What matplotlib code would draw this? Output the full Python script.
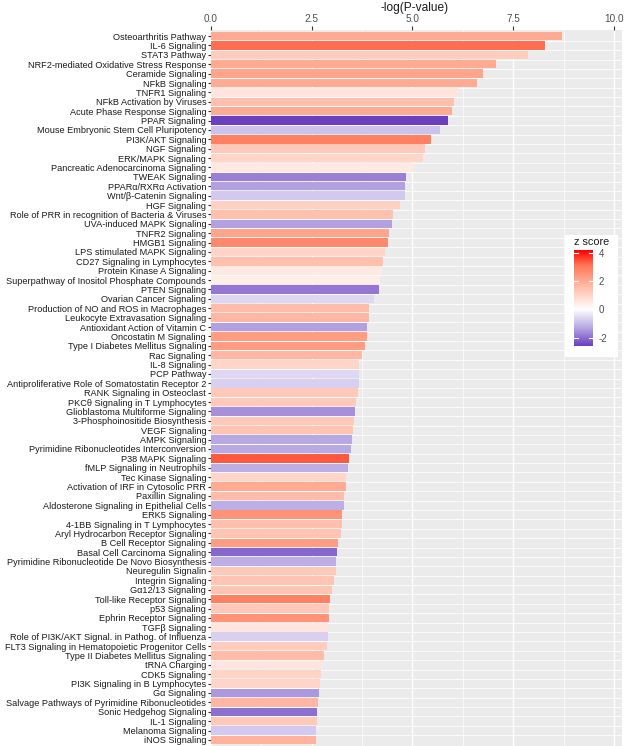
import numpy as np
import matplotlib
matplotlib.use('Agg')
import matplotlib.pyplot as plt
from matplotlib.colors import LinearSegmentedColormap, TwoSlopeNorm
from matplotlib.patches import Rectangle

pathways = [
    'Osteoarthritis Pathway', 'IL-6 Signaling', 'STAT3 Pathway',
    'NRF2-mediated Oxidative Stress Response', 'Ceramide Signaling', 'NFkB Signaling',
    'TNFR1 Signaling', 'NFkB Activation by Viruses', 'Acute Phase Response Signaling',
    'PPAR Signaling', 'Mouse Embryonic Stem Cell Pluripotency', 'PI3K/AKT Signaling',
    'NGF Signaling', 'ERK/MAPK Signaling', 'Pancreatic Adenocarcinoma Signaling',
    'TWEAK Signaling', 'PPARα/RXRα Activation', 'Wnt/β-Catenin Signaling',
    'HGF Signaling', 'Role of PRR in recognition of Bacteria & Viruses',
    'UVA-induced MAPK Signaling', 'TNFR2 Signaling', 'HMGB1 Signaling',
    'LPS stimulated MAPK Signaling', 'CD27 Signaling in Lymphocytes',
    'Protein Kinase A Signaling', 'Superpathway of Inositol Phosphate Compounds',
    'PTEN Signaling', 'Ovarian Cancer Signaling', 'Production of NO and ROS in Macrophages',
    'Leukocyte Extravasation Signaling', 'Antioxidant Action of Vitamin C',
    'Oncostatin M Signaling', 'Type I Diabetes Mellitus Signaling', 'Rac Signaling',
    'IL-8 Signaling', 'PCP Pathway', 'Antiproliferative Role of Somatostatin Receptor 2',
    'RANK Signaling in Osteoclast', 'PKCθ Signaling in T Lymphocytes',
    'Glioblastoma Multiforme Signaling', '3-Phosphoinositide Biosynthesis', 'VEGF Signaling',
    'AMPK Signaling', 'Pyrimidine Ribonucleotides Interconversion', 'P38 MAPK Signaling',
    'fMLP Signaling in Neutrophils', 'Tec Kinase Signaling',
    'Activation of IRF in Cytosolic PRR', 'Paxillin Signaling',
    'Aldosterone Signaling in Epithelial Cells', 'ERK5 Signaling',
    '4-1BB Signaling in T Lymphocytes', 'Aryl Hydrocarbon Receptor Signaling',
    'B Cell Receptor Signaling', 'Basal Cell Carcinoma Signaling',
    'Pyrimidine Ribonucleotide De Novo Biosynthesis', 'Neuregulin Signalin',
    'Integrin Signaling', 'Gα12/13 Signaling', 'Toll-like Receptor Signaling',
    'p53 Signaling', 'Ephrin Receptor Signaling', 'TGFβ Signaling',
    'Role of PI3K/AKT Signal. in Pathog. of Influenza',
    'FLT3 Signaling in Hematopoietic Progenitor Cells', 'Type II Diabetes Mellitus Signaling',
    'tRNA Charging', 'CDK5 Signaling', 'PI3K Signaling in B Lymphocytes',
    'Gα Signaling', 'Salvage Pathways of Pyrimidine Ribonucleotides',
    'Sonic Hedgehog Signaling', 'IL-1 Signaling', 'Melanoma Signaling', 'iNOS Signaling',
]

log_p = [
    8.72, 8.28, 7.87, 7.08, 6.74, 6.59, 6.14, 6.04, 5.99, 5.89,
    5.69, 5.45, 5.30, 5.25, 5.03, 4.83, 4.81, 4.81, 4.68, 4.52,
    4.50, 4.42, 4.40, 4.31, 4.26, 4.25, 4.19, 4.16, 4.04, 3.93,
    3.93, 3.88, 3.88, 3.83, 3.75, 3.68, 3.68, 3.67, 3.64, 3.60,
    3.57, 3.55, 3.52, 3.49, 3.47, 3.42, 3.39, 3.35, 3.34, 3.30,
    3.29, 3.26, 3.24, 3.22, 3.16, 3.13, 3.11, 3.11, 3.06, 3.01,
    2.96, 2.93, 2.92, 2.91, 2.90, 2.89, 2.81, 2.77, 2.74, 2.70,
    2.69, 2.66, 2.64, 2.62, 2.61, 2.60,
]

z_score = [
    2.0, 3.2, 1.2, 2.0, 2.1, 2.0, 0.6, 1.5, 2.0, -2.6,
    -0.9, 2.9, 1.3, 1.0, 0.5, -1.8, -1.4, -0.8, 1.1, 1.5,
    -1.4, 2.1, 2.7, 1.0, 1.5, 0.5, 0.4, -1.9, -0.6, 1.6,
    1.7, -1.4, 2.3, 2.3, 1.7, 1.0, -0.6, -0.7, 1.3, 1.3,
    -1.6, 1.3, 1.4, -1.3, -1.3, 3.4, -1.2, 1.0, 2.0, 1.6,
    -1.2, 2.5, 1.5, 1.4, 2.3, -2.1, -1.2, 1.3, 1.4, 1.4,
    2.9, 1.3, 2.5, 0.6, -0.7, 1.2, 1.6, 0.6, 1.0, 1.0,
    -1.5, 1.7, -2.0, 1.3, -0.8, 1.8,
]

x_ticks = [0, 2.5, 5, 7.5, 10]
x_tick_labels = ['0.0', '2.5', '5.0', '7.5', '10.0']
legend_ticks = [-2, 0, 2, 4]

plt.rcParams['font.family'] = ['Liberation Sans', 'DejaVu Sans']

W, H = 624, 746
fig = plt.figure(figsize=(W / 100, H / 100), dpi=100)

cmap = LinearSegmentedColormap.from_list('zs', [
    (0.0, '#6A3FC0'), (0.25, '#B8A8E3'), (0.5, '#FFFFFF'),
    (0.625, '#FFD3C5'), (0.75, '#FFA68D'), (0.875, '#FF7556'), (1.0, '#FF0000')])
norm = TwoSlopeNorm(vmin=-2.6, vcenter=0, vmax=4.2)

# main panel
ax = fig.add_axes([211 / W, 0, 411 / W, (H - 30) / H])
ax.set_facecolor('#EBEBEB')
y = np.arange(len(pathways))
ax.barh(y, log_p, height=0.9, color=cmap(norm(np.array(z_score))), zorder=2)
ax.set_xlim(0, 10.2)
ax.set_ylim(len(pathways) - 0.35, -0.65)

for v in [1.25, 3.75, 6.25, 8.75]:
    ax.axvline(v, color='white', lw=0.5, zorder=1)
for v in x_ticks:
    ax.axvline(v, color='white', lw=1.0, zorder=1)
for v in y[:-1]:
    ax.axhline(v + 0.5, color='white', lw=0.6, zorder=1)

for s in ax.spines.values():
    s.set_visible(False)

ax.xaxis.tick_top()
ax.set_xticks(x_ticks, x_tick_labels)
ax.tick_params(axis='x', length=3, color='#333333', labelcolor='#4D4D4D',
               labelsize=7.2, pad=1.5)
ax.set_yticks(y, pathways)
ax.tick_params(axis='y', length=2.5, color='#333333', labelcolor='#1A1A1A',
               labelsize=6.6, pad=1)

fig.text(415 / W, 1 - 8 / H, '-log(P-value)', ha='center', va='center',
         fontsize=8.6, color='#1A1A1A')

# legend
fig.patches.append(Rectangle((565 / W, 1 - 357 / H), 53 / W, 122 / H,
                             transform=fig.transFigure, facecolor='white',
                             edgecolor='none', zorder=3))
cax = fig.add_axes([574 / W, 1 - 346 / H, 19 / W, 96 / H], zorder=4)
vals = np.linspace(-2.6, 4.2, 300)
cax.imshow(vals[:, None], aspect='auto', cmap=cmap, norm=norm,
           extent=[0, 1, -2.6, 4.2], origin='lower')
cax.set_xlim(0, 1)
cax.set_ylim(-2.6, 4.2)
for v in legend_ticks:
    cax.plot([0, 0.2], [v, v], color='white', lw=0.8)
    cax.plot([0.8, 1], [v, v], color='white', lw=0.8)
cax.set_xticks([])
cax.yaxis.tick_right()
cax.set_yticks(legend_ticks, [str(t) for t in legend_ticks])
cax.tick_params(axis='y', length=0, labelsize=7, labelcolor='#4D4D4D', pad=4)
for s in cax.spines.values():
    s.set_visible(False)
fig.text(574 / W, 1 - 242 / H, 'z score', ha='left', va='center', fontsize=7.8,
         color='#1A1A1A', zorder=5)

fig.savefig('out.png', dpi=100)
